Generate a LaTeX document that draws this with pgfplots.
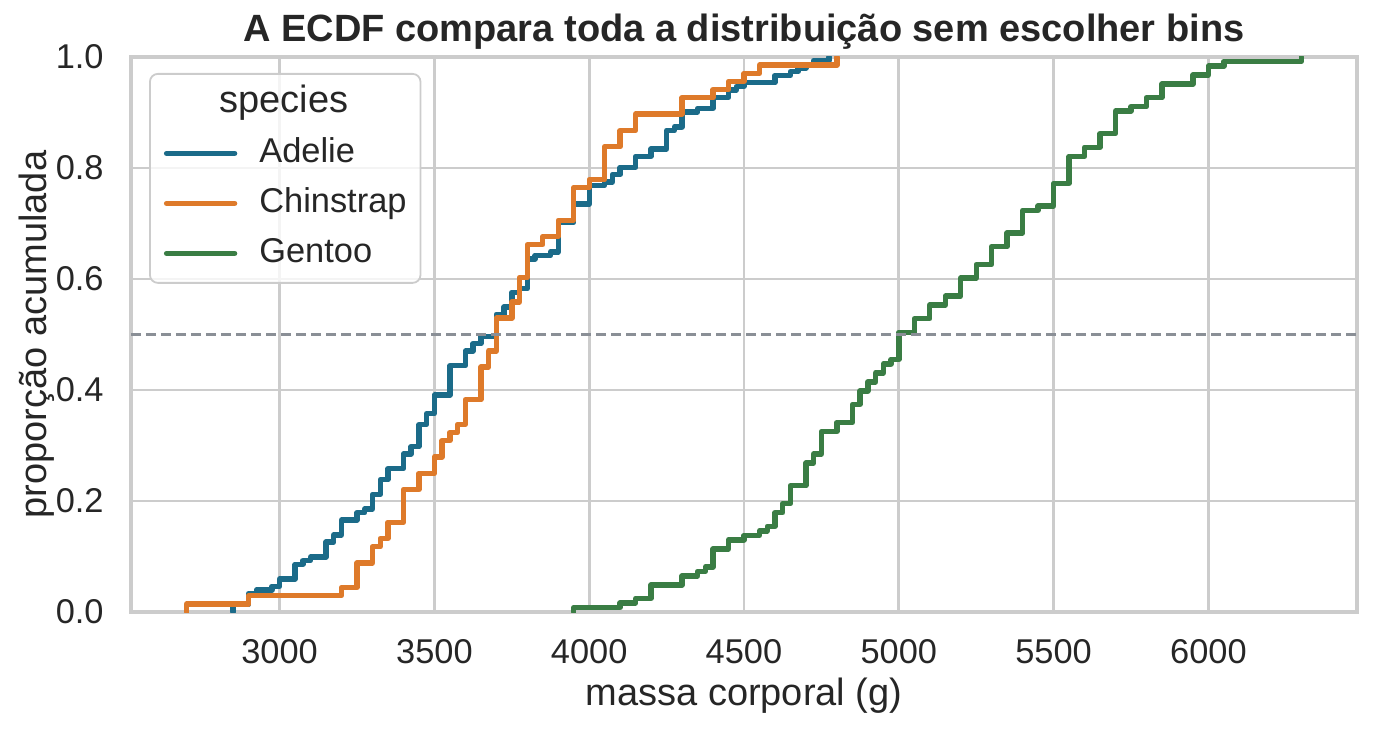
\documentclass[border=0pt]{standalone}
\usepackage{fontspec}
\setmainfont{Liberation Sans}
\usepackage{pgfplots}
\pgfplotsset{compat=1.18}

\definecolor{adelie}{RGB}{27,107,137}
\definecolor{chinstrap}{RGB}{222,122,42}
\definecolor{gentoo}{RGB}{58,125,68}
\definecolor{txt}{RGB}{38,38,38}
\definecolor{gridc}{RGB}{204,204,204}
\definecolor{refc}{RGB}{138,143,150}

% ECDF steps: massa corporal (g), proporcao acumulada
\pgfplotstableread{
x p
2850 0
2850 0.0132
2900 0.0331
2925 0.0397
2975 0.0464
3000 0.0596
3050 0.0861
3075 0.0927
3100 0.0993
3150 0.1258
3175 0.1391
3200 0.1656
3250 0.1788
3275 0.1854
3300 0.2119
3325 0.2384
3350 0.2583
3400 0.2848
3425 0.2980
3450 0.3377
3475 0.3576
3500 0.3907
3550 0.4437
3600 0.4702
3625 0.4834
3650 0.4967
3700 0.5364
3725 0.5497
3750 0.5762
3775 0.5828
3800 0.6358
3825 0.6424
3875 0.6490
3900 0.7020
3950 0.7351
4000 0.7682
4050 0.7748
4075 0.7881
4100 0.8013
4150 0.8212
4200 0.8344
4250 0.8675
4275 0.8742
4300 0.9007
4350 0.9073
4400 0.9272
4450 0.9404
4475 0.9470
4500 0.9536
4600 0.9669
4650 0.9735
4675 0.9801
4700 0.9868
4725 0.9934
4775 1.0000
}\adelie

\pgfplotstableread{
x p
2700 0
2700 0.0147
2900 0.0294
3200 0.0441
3250 0.0882
3300 0.1176
3325 0.1324
3350 0.1618
3400 0.2206
3450 0.2500
3500 0.2794
3525 0.3088
3550 0.3235
3575 0.3382
3600 0.3824
3650 0.4412
3675 0.4706
3700 0.5294
3750 0.5588
3775 0.6029
3800 0.6618
3850 0.6765
3900 0.7059
3950 0.7647
4000 0.7794
4050 0.8382
4100 0.8676
4150 0.8971
4300 0.9265
4400 0.9412
4450 0.9559
4500 0.9706
4550 0.9853
4800 1.0000
}\chinstrap

\pgfplotstableread{
x p
3950 0
3950 0.0081
4100 0.0163
4150 0.0244
4200 0.0488
4300 0.0650
4350 0.0732
4375 0.0813
4400 0.1138
4450 0.1301
4500 0.1382
4550 0.1463
4575 0.1545
4600 0.1789
4625 0.1951
4650 0.2276
4700 0.2683
4725 0.2846
4750 0.3252
4800 0.3415
4850 0.3740
4875 0.3984
4900 0.4146
4925 0.4309
4950 0.4472
4975 0.4553
5000 0.5041
5050 0.5285
5100 0.5528
5150 0.5691
5200 0.6016
5250 0.6260
5300 0.6585
5350 0.6829
5400 0.7236
5450 0.7317
5500 0.7724
5550 0.8211
5600 0.8374
5650 0.8618
5700 0.9024
5750 0.9106
5800 0.9268
5850 0.9512
5950 0.9675
6000 0.9837
6050 0.9919
6300 1.0000
}\gentoo

\begin{document}
\begin{tikzpicture}
\begin{axis}[
    scale only axis, width=613pt, height=277.5pt,
    xmin=2520, xmax=6480, ymin=0, ymax=1,
    xtick={3000,3500,...,6000},
    ytick={0,0.2,0.4,0.6,0.8,1},
    major tick length=0pt,
    axis line style={draw=gridc, line width=1.7pt},
    grid=major,
    major grid style={draw=gridc, line width=1.4pt},
    tick label style={font=\fontsize{17.2}{20}\selectfont, color=txt, inner sep=0pt},
    /pgf/number format/assume math mode=true,
    /pgf/number format/1000 sep={},
    xticklabel shift=13.5pt,
    yticklabel shift=13.5pt,
    yticklabel style={/pgf/number format/.cd, fixed, fixed zerofill, precision=1},
    scaled y ticks=false,
    title={\bfseries A ECDF compara toda a distribuição sem escolher bins},
    title style={at={(axis description cs:0.5,1)}, anchor=base, yshift=1.5pt,
        font=\fontsize{19}{22}\selectfont, color=txt},
    xlabel={massa corporal (g)},
    xlabel style={at={(axis description cs:0.5,0)}, anchor=base, yshift=-46.5pt,
        font=\fontsize{19}{22}\selectfont, color=txt},
    ylabel={proporção acumulada},
    ylabel style={at={([xshift=-42pt]axis description cs:0,0.5)}, anchor=base,
        font=\fontsize{19}{22}\selectfont, color=txt},
    legend cell align=left,
    legend image code/.code={\draw[#1, line cap=round] (0pt,0pt) -- (34pt,0pt);},
    legend style={at={(axis description cs:0.0147,0.9712)}, anchor=north west,
        draw=gridc, line width=0.9pt, rounded corners=4pt,
        fill=white, fill opacity=0.8, draw opacity=1, text opacity=1,
        inner xsep=7pt, inner ysep=6pt, column sep=11pt, row sep=7.5pt,
        nodes={inner sep=0pt, text height=13.5pt, text depth=4pt},
        font=\fontsize{17.2}{20}\selectfont, text=txt},
    every axis plot/.append style={line width=2.7pt, line join=round, line cap=round},
]
\addlegendimage{empty legend}
\addlegendentry{\hspace*{-20pt}\fontsize{19}{22}\selectfont species}
\addplot[const plot, adelie] table[x=x, y=p] {\adelie};
\addlegendentry{Adelie}
\addplot[const plot, chinstrap] table[x=x, y=p] {\chinstrap};
\addlegendentry{Chinstrap}
\addplot[const plot, gentoo] table[x=x, y=p] {\gentoo};
\addlegendentry{Gentoo}
\addplot[forget plot, refc, line width=1.2pt, line cap=butt, dash pattern=on 5pt off 2.5pt]
    coordinates {(2520,0.5) (6480,0.5)};
\coordinate (sw) at (rel axis cs:0,0);
\coordinate (ne) at (rel axis cs:1,1);
\end{axis}
\pgfresetboundingbox
\path[use as bounding box] ([xshift=-65.5pt,yshift=-58.5pt]sw) rectangle ([xshift=8.5pt,yshift=28.5pt]ne);
\end{tikzpicture}
\end{document}
